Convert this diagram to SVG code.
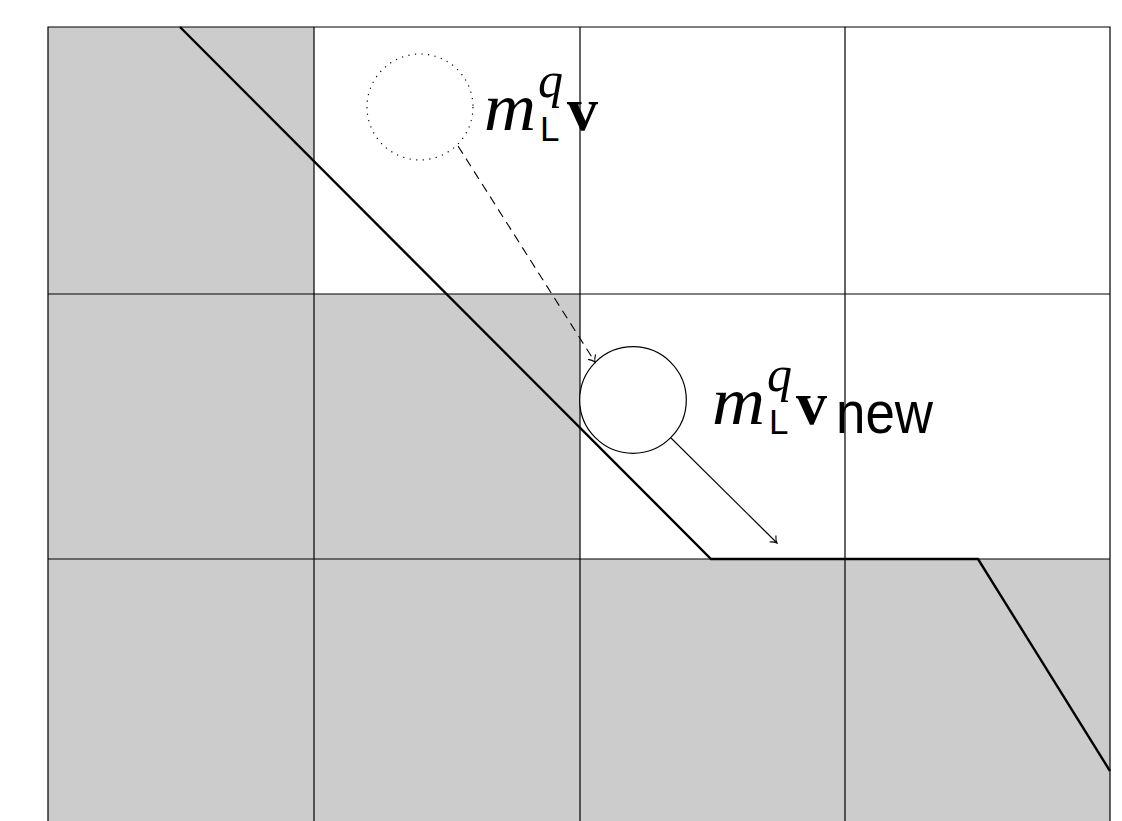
<svg xmlns="http://www.w3.org/2000/svg" width="1122" height="821" viewBox="0 0 1122 821">
<defs>
<style>
.cell{fill:#cccccc;stroke:none}
.grid{stroke:#000;stroke-width:1.2;fill:none}
.wall{stroke:#000;stroke-width:2.4;fill:none;stroke-linejoin:miter}
.mi{font-family:"Liberation Serif",serif;font-style:italic}
.bf{font-family:"Liberation Serif",serif;font-weight:bold}
.sf{font-family:"Liberation Sans",Arial,sans-serif}
.conn{stroke:#000;stroke-width:1.1;fill:none}
</style>
<marker id="to" markerWidth="12" markerHeight="12" refX="8" refY="6" orient="auto" markerUnits="userSpaceOnUse">
<path d="M2,1.5 Q5,5 8,6 Q5,7 2,10.5" fill="none" stroke="#000" stroke-width="1.1"/>
</marker>
</defs>
<rect width="1122" height="821" fill="#fff"/>
<g id="cells">
<rect class="cell" x="48" y="27" width="266" height="794"/>
<rect class="cell" x="314" y="294" width="266" height="527"/>
<rect class="cell" x="580" y="559" width="530" height="262"/>
</g>
<g id="grid">
<path class="grid" d="M48,821 V27 H1110 V821 M314,27 V821 M580,27 V821 M845,27 V821 M48,294 H1110 M48,559 H1110"/>
</g>
<g id="wall">
<polyline class="wall" points="180,27 711,559 978,559 1110,771"/>
</g>
<g id="ball-old">
<circle cx="420" cy="107" r="53" fill="none" stroke="#000" stroke-width="1.2" stroke-dasharray="1.2 5.4" stroke-linecap="butt"/>
</g>
<g id="ball-new">
<circle cx="633" cy="400" r="53.3" fill="#fff" stroke="#000" stroke-width="1.2"/>
</g>
<g id="connectors">
<line class="conn" x1="458" y1="146" x2="595" y2="362" stroke-dasharray="9 6" marker-end="url(#to)"/>
<line class="conn" x1="671" y1="438" x2="777" y2="543" marker-end="url(#to)"/>
</g>
<g id="label-old">
<text class="mi" x="484" y="130" font-size="68" textLength="52" lengthAdjust="spacingAndGlyphs">m</text>
<text class="mi" x="538" y="97" font-size="50" textLength="25" lengthAdjust="spacingAndGlyphs">q</text>
<text class="sf" x="540" y="141" font-size="35">L</text>
<text class="bf" x="567" y="130" font-size="62">v</text>
</g>
<g id="label-new">
<text class="mi" x="712" y="424" font-size="68" textLength="53" lengthAdjust="spacingAndGlyphs">m</text>
<text class="mi" x="767" y="391" font-size="50" textLength="25" lengthAdjust="spacingAndGlyphs">q</text>
<text class="sf" x="769" y="434" font-size="35">L</text>
<text class="bf" x="796" y="424" font-size="62">v</text>
<text class="sf" x="836" y="433" font-size="60" textLength="97" lengthAdjust="spacingAndGlyphs">new</text>
</g>
</svg>
